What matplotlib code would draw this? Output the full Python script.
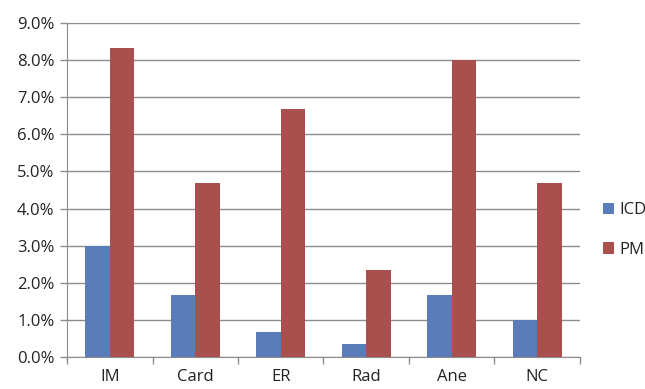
import matplotlib
matplotlib.use("Agg")
import matplotlib.pyplot as plt
import numpy as np
from matplotlib.ticker import FuncFormatter, FixedLocator

plt.rcParams['font.family'] = ['Open Sans', 'DejaVu Sans']

categories = ["IM", "Card", "ER", "Rad", "Ane", "NC"]
icd = [3.0, 1.67, 0.68, 0.34, 1.67, 1.0]
pm = [8.33, 4.69, 6.69, 2.34, 8.0, 4.69]
series_names = ["ICD", "PM"]

blue = "#5A7DBA"
red = "#A94F4D"
grid_col = "#8C8C8C"

fig = plt.figure(figsize=(6.45, 3.89), dpi=100)
ax = fig.add_axes([0.104, 0.0823, 0.795, 0.8587])

x = np.arange(len(categories))
w = 1 / 3.5
ax.bar(x - w / 2, icd, width=w, color=blue, label=series_names[0], zorder=3)
ax.bar(x + w / 2, pm, width=w, color=red, label=series_names[1], zorder=3)

ax.set_xlim(-0.5, len(categories) - 0.5)
ax.set_ylim(0, 9.0)
ax.set_yticks(np.arange(0, 9.01, 1.0))
ax.yaxis.set_major_formatter(FuncFormatter(lambda v, p: f"{v:.1f}%"))
ax.yaxis.grid(True, color=grid_col, linewidth=1.0, zorder=0)

ax.set_xticks(x)
ax.set_xticklabels(categories)
ax.xaxis.set_minor_locator(FixedLocator(np.arange(-0.5, len(categories), 1.0)))
ax.tick_params(axis='x', which='major', length=0, pad=9, labelsize=12, colors="#222222")
ax.tick_params(axis='x', which='minor', length=5, color=grid_col, width=1)
ax.tick_params(axis='y', length=5, color=grid_col, width=1, labelsize=12,
               labelcolor="#222222", pad=4)

for s in ["top", "right"]:
    ax.spines[s].set_visible(False)
ax.spines["left"].set_color(grid_col)
ax.spines["bottom"].set_color(grid_col)

leg = ax.legend(loc="center left", bbox_to_anchor=(1.015, 0.38), frameon=False,
                handlelength=0.7, handleheight=0.7, handletextpad=0.3,
                labelspacing=1.4, fontsize=12)
for t in leg.get_texts():
    t.set_color("#222222")

fig.savefig("out.png", dpi=100)
